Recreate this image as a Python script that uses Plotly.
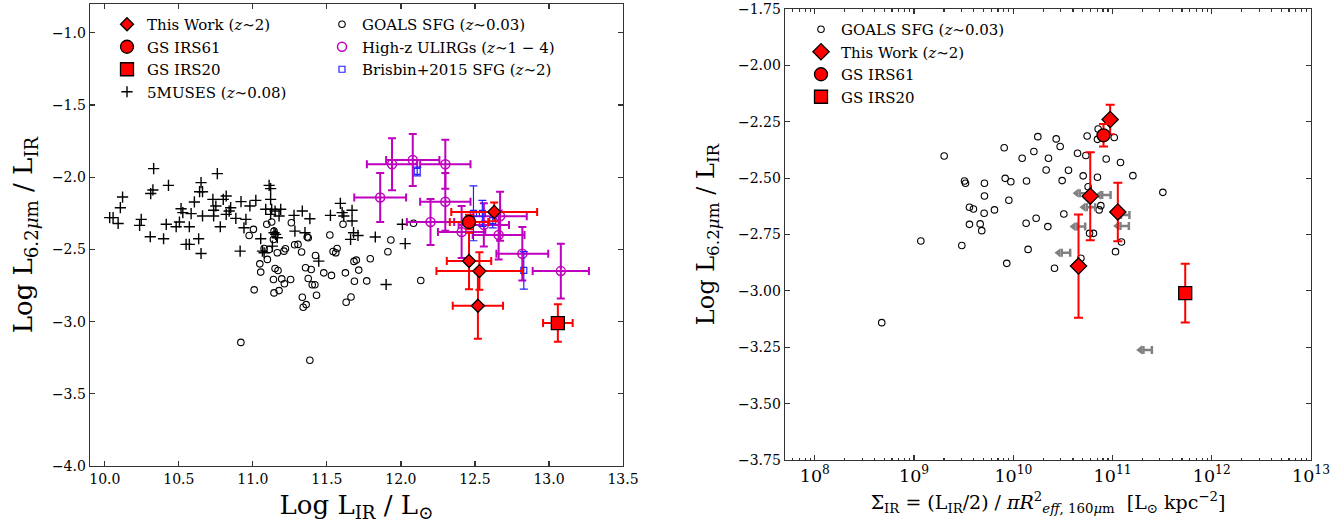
import plotly.graph_objects as go

FONT = "DejaVu Serif"
AX = "#333333"

# ---------------- Left panel data: Log L6.2 / LIR vs Log LIR ----------------
muses_lir = [10.33, 10.76, 10.43, 10.65, 11.11, 11.12, 10.325, 10.31, 10.12, 10.105,
             10.64, 10.66, 10.82, 10.80, 10.73, 10.605, 10.515, 10.527, 10.583, 10.75,
             10.735, 10.735, 10.66, 10.82, 10.85, 10.84, 10.885, 10.92, 10.98, 11.02,
             11.12, 11.087, 11.127, 11.15, 11.188, 11.177, 11.12, 10.953, 10.94, 10.415,
             10.482, 10.504, 10.571, 10.78, 10.246, 10.235, 10.033, 10.056, 10.09, 10.307,
             10.397, 10.634, 10.549, 10.571, 10.65, 10.914, 11.053, 11.143, 11.154, 11.165,
             11.132, 11.065, 11.076, 11.334, 11.278, 11.385, 11.284, 11.352, 11.524, 11.591,
             11.603, 11.614, 11.67, 11.67, 11.68, 11.66, 11.71, 11.827, 12.01, 12.029,
             11.90, 11.445]
muses_ratio = [-1.94, -1.975, -2.056, -2.037, -2.056, -2.079, -2.088, -2.113, -2.137, -2.211,
               -2.10, -2.10, -2.13, -2.153, -2.153, -2.171, -2.218, -2.245, -2.252, -2.199,
               -2.229, -2.268, -2.268, -2.257, -2.211, -2.234, -2.285, -2.169, -2.199, -2.160,
               -2.153, -2.222, -2.222, -2.234, -2.222, -2.268, -2.257, -2.292, -2.35, -2.326,
               -2.343, -2.310, -2.343, -2.343, -2.292, -2.333, -2.280, -2.280, -2.32, -2.412,
               -2.426, -2.426, -2.465, -2.465, -2.528, -2.512, -2.426, -2.384, -2.396, -2.419,
               -2.477, -2.512, -2.523, -2.234, -2.264, -2.287, -2.373, -2.384, -2.264, -2.181,
               -2.245, -2.268, -2.229, -2.303, -2.384, -2.43, -2.403, -2.414, -2.326, -2.46,
               -2.743, -2.581]

goals_lir = [10.919, 11.385, 11.004, 10.975, 11.094, 11.127, 11.143, 11.15, 11.139, 11.076,
             11.11, 11.098, 11.047, 11.053, 11.009, 11.139, 11.195, 11.255, 11.213, 11.143,
             11.177, 11.15, 11.17, 11.165, 11.21, 11.22, 11.26, 11.282, 11.305, 11.329,
             11.367, 11.374, 11.423, 11.356, 11.394, 11.479, 11.374, 11.401, 11.419, 11.43,
             11.334, 11.34, 11.36, 11.52, 11.531, 11.542, 11.56, 11.569, 11.609, 11.625,
             11.683, 11.699, 11.715, 11.686, 11.769, 11.793, 11.663, 11.63, 11.912, 11.932,
             12.085, 12.134]
goals_ratio = [-3.144, -3.268, -2.361, -2.403, -2.326, -2.310, -2.373, -2.396, -2.431, -2.493,
               -2.50, -2.569, -2.60, -2.657, -2.780, -2.708, -2.704, -2.708, -2.738, -2.801,
               -2.785, -2.632, -2.646, -2.523, -2.512, -2.495, -2.315, -2.468, -2.465, -2.518,
               -2.414, -2.419, -2.542, -2.627, -2.639, -2.662, -2.701, -2.745, -2.745, -2.817,
               -2.831, -2.90, -2.882, -2.40, -2.68, -2.514, -2.523, -2.493, -2.326, -2.662,
               -2.583, -2.574, -2.643, -2.72, -2.718, -2.565, -2.829, -2.866, -2.516, -2.435,
               -2.319, -2.715]

ulirg_lir = [11.94, 12.08, 12.30, 11.86, 12.30, 12.20, 12.41, 12.56, 12.66, 12.67, 12.82, 13.08]
ulirg_ratio = [-1.91, -1.88, -1.91, -2.14, -2.17, -2.31, -2.38, -2.33, -2.40, -2.27, -2.53, -2.65]
ulirg_lir_err = [0.17, 0.18, 0.17, 0.175, 0.17, 0.16, 0.16, 0.17, 0.175, 0.18, 0.175, 0.19]
ulirg_ratio_err = [0.18, 0.18, 0.17, 0.17, 0.20, 0.16, 0.18, 0.15, 0.17, 0.17, 0.185, 0.19]

brisbin_lir = [12.11, 12.49, 12.55, 12.62, 12.83]
brisbin_ratio = [-1.96, -2.25, -2.25, -2.30, -2.645]
brisbin_ratio_err = [0.03, 0.19, 0.09, 0.05, 0.13]

work_lir = [12.63, 12.46, 12.53, 12.52]
work_ratio = [-2.24, -2.58, -2.65, -2.89]
work_lir_err = [0.29, 0.15, 0.29, 0.17]
work_ratio_err = [0.065, 0.195, 0.13, 0.229]

irs61_lir, irs61_ratio, irs61_lir_err, irs61_ratio_err = [12.46], [-2.31], [0.13], [0.05]
irs20_lir, irs20_ratio, irs20_lir_err, irs20_ratio_err = [13.06], [-3.01], [0.10], [0.13]

# ---------------- Right panel data: ratio vs Sigma_IR ----------------
goals_log_sigma = [8.674, 9.068, 9.303, 9.481, 9.508, 9.518, 9.709, 9.709, 9.558, 9.598,
                   9.706, 9.810, 9.558, 9.666, 9.682, 9.908, 9.918, 9.975, 9.955, 9.934,
                   10.089, 10.133, 10.129, 10.149, 10.207, 10.230, 10.247, 10.331, 10.354, 10.348,
                   10.432, 10.472, 10.492, 10.509, 10.556, 10.647, 10.704, 10.731, 10.744, 10.754,
                   10.415, 10.681, 10.768, 10.808, 10.848, 10.855, 10.848, 10.865, 10.882, 10.936,
                   11.017, 11.080, 11.090, 11.030, 11.205, 11.507]
goals_ratio_r = [-3.141, -2.779, -2.402, -2.799, -2.513, -2.523, -2.523, -2.579, -2.629, -2.637,
                 -2.656, -2.641, -2.705, -2.703, -2.733, -2.365, -2.501, -2.516, -2.598, -2.878,
                 -2.412, -2.513, -2.700, -2.816, -2.382, -2.678, -2.316, -2.464, -2.412, -2.715,
                 -2.326, -2.360, -2.511, -2.659, -2.465, -2.390, -2.490, -2.400, -2.313, -2.538,
                 -2.900, -2.855, -2.745, -2.745, -2.496, -2.282, -2.328, -2.641, -2.622, -2.415,
                 -2.320, -2.431, -2.783, -2.826, -2.489, -2.563]
goals_sigma = [10 ** v for v in goals_log_sigma]

work_sigma = [9.46e10, 5.96e10, 1.13e11, 4.54e10]
irs61_sigma = [8.11e10]
irs20_sigma = [5.40e11]

limit_sigma = [5.69e10, 9.55e10, 6.68e10, 1.48e11, 5.30e10, 1.46e11, 3.74e10, 2.49e11]
limit_ratio = [-2.567, -2.575, -2.629, -2.664, -2.715, -2.712, -2.831, -3.262]
limit_len_dex = 0.085
limit_head_dex = 0.118

RED = "#FF0000"
MAG = "#BF00BF"
BLUE = "#2222FF"
GRAY = "#808080"

fig = go.Figure()

# ---------- left panel ----------
fig.add_trace(go.Scatter(
    x=muses_lir, y=muses_ratio, mode="markers", name="5MUSES (<i>z</i>∼0.08)",
    marker=dict(symbol="cross-thin-open", size=8, line=dict(color="black", width=1.4), color="black"),
    legend="legend", legendrank=4, xaxis="x", yaxis="y"))
fig.add_trace(go.Scatter(
    x=goals_lir, y=goals_ratio, mode="markers", name="GOALS SFG (<i>z</i>∼0.03)",
    marker=dict(symbol="circle-open", size=6.5, line=dict(color="black", width=1.1), color="black"),
    legend="legend2", legendrank=1, xaxis="x", yaxis="y"))
fig.add_trace(go.Scatter(
    x=ulirg_lir, y=ulirg_ratio, mode="markers", name="High-z ULIRGs (<i>z</i>∼1 − 4)",
    marker=dict(symbol="circle-open", size=9, line=dict(color=MAG, width=1.5), color=MAG),
    error_x=dict(type="data", array=ulirg_lir_err, color=MAG, thickness=2, width=4),
    error_y=dict(type="data", array=ulirg_ratio_err, color=MAG, thickness=2, width=4),
    legend="legend2", legendrank=2, xaxis="x", yaxis="y"))
fig.add_trace(go.Scatter(
    x=brisbin_lir, y=brisbin_ratio, mode="markers", name="Brisbin+2015 SFG (<i>z</i>∼2)",
    marker=dict(symbol="square-open", size=6, line=dict(color=BLUE, width=1.2), color=BLUE),
    error_y=dict(type="data", array=brisbin_ratio_err, color=BLUE, thickness=1.2, width=4),
    legend="legend2", legendrank=3, xaxis="x", yaxis="y"))
fig.add_trace(go.Scatter(
    x=work_lir, y=work_ratio, mode="markers", name="This Work (<i>z</i>∼2)",
    marker=dict(symbol="diamond", size=10, color=RED, line=dict(color="black", width=1.3)),
    error_x=dict(type="data", array=work_lir_err, color=RED, thickness=2, width=4),
    error_y=dict(type="data", array=work_ratio_err, color=RED, thickness=2, width=4),
    legend="legend", legendrank=1, xaxis="x", yaxis="y"))
fig.add_trace(go.Scatter(
    x=irs61_lir, y=irs61_ratio, mode="markers", name="GS IRS61",
    marker=dict(symbol="circle", size=13, color=RED, line=dict(color="black", width=1.3)),
    error_x=dict(type="data", array=irs61_lir_err, color=RED, thickness=2, width=4),
    error_y=dict(type="data", array=irs61_ratio_err, color=RED, thickness=2, width=4),
    legend="legend", legendrank=2, xaxis="x", yaxis="y"))
fig.add_trace(go.Scatter(
    x=irs20_lir, y=irs20_ratio, mode="markers", name="GS IRS20",
    marker=dict(symbol="square", size=13, color=RED, line=dict(color="black", width=1.3)),
    error_x=dict(type="data", array=irs20_lir_err, color=RED, thickness=2, width=4),
    error_y=dict(type="data", array=irs20_ratio_err, color=RED, thickness=2, width=4),
    legend="legend", legendrank=3, xaxis="x", yaxis="y"))

# ---------- right panel ----------
fig.add_trace(go.Scatter(
    x=goals_sigma, y=goals_ratio_r, mode="markers", name="GOALS SFG (<i>z</i>∼0.03)",
    marker=dict(symbol="circle-open", size=6.5, line=dict(color="black", width=1.1), color="black"),
    legend="legend3", legendrank=1, xaxis="x2", yaxis="y2"))
fig.add_trace(go.Scatter(
    x=limit_sigma, y=limit_ratio, mode="markers", showlegend=False, hoverinfo="skip",
    marker=dict(size=1, color="rgba(0,0,0,0)"),
    error_x=dict(type="data", symmetric=False, array=[0] * len(limit_sigma),
                 arrayminus=[s * (1 - 10 ** -limit_len_dex) for s in limit_sigma],
                 color=GRAY, thickness=2.5, width=4),
    xaxis="x2", yaxis="y2"))
fig.add_trace(go.Scatter(
    x=[s * 10 ** -limit_head_dex for s in limit_sigma], y=limit_ratio, mode="markers",
    showlegend=False, hoverinfo="skip",
    marker=dict(symbol="triangle-left", size=8, color=GRAY, line=dict(width=0)),
    xaxis="x2", yaxis="y2"))
fig.add_trace(go.Scatter(
    x=work_sigma, y=work_ratio, mode="markers", name="This Work (<i>z</i>∼2)",
    marker=dict(symbol="diamond", size=12.5, color=RED, line=dict(color="black", width=1.3)),
    error_y=dict(type="data", array=work_ratio_err, color=RED, thickness=2, width=4.5),
    legend="legend3", legendrank=2, xaxis="x2", yaxis="y2"))
fig.add_trace(go.Scatter(
    x=irs61_sigma, y=irs61_ratio, mode="markers", name="GS IRS61",
    marker=dict(symbol="circle", size=13, color=RED, line=dict(color="black", width=1.3)),
    error_y=dict(type="data", array=irs61_ratio_err, color=RED, thickness=2, width=4.5),
    legend="legend3", legendrank=3, xaxis="x2", yaxis="y2"))
fig.add_trace(go.Scatter(
    x=irs20_sigma, y=irs20_ratio, mode="markers", name="GS IRS20",
    marker=dict(symbol="square", size=13, color=RED, line=dict(color="black", width=1.3)),
    error_y=dict(type="data", array=irs20_ratio_err, color=RED, thickness=2, width=4.5),
    legend="legend3", legendrank=4, xaxis="x2", yaxis="y2"))

W, H = 1344, 523
tickfont = dict(family=FONT, size=14, color="black")
axis_common = dict(showline=True, linecolor=AX, linewidth=1.3, mirror="ticks",
                   ticks="inside", ticklen=5, tickwidth=1.2, tickcolor=AX,
                   showgrid=False, zeroline=False, tickfont=tickfont)

legend_common = dict(bgcolor="rgba(0,0,0,0)", borderwidth=0, xanchor="left", yanchor="top",
                     font=dict(family=FONT, size=15, color="black"),
                     tracegroupgap=0, itemsizing="trace")

fig.update_layout(
    width=W, height=H, margin=dict(l=0, r=0, t=0, b=0, autoexpand=False),
    paper_bgcolor="white", plot_bgcolor="white",
    font=dict(family=FONT, color="black"),
    hovermode=False,
    xaxis=dict(domain=[90 / W, 623 / W], range=[9.9, 13.5], dtick=0.5, tick0=10,
               tickformat=".1f", anchor="y",
               title=dict(text="Log L<sub>IR</sub> / L<sub>⊙</sub>",
                          font=dict(family=FONT, size=26), standoff=11),
               **axis_common),
    yaxis=dict(domain=[1 - 466 / H, 1 - 4 / H], range=[-4.0, -0.8], dtick=0.5, tick0=-4,
               tickformat=".1f", anchor="x",
               title=dict(text="Log L<sub>6.2<i>μ</i>m</sub> / L<sub>IR</sub>",
                          font=dict(family=FONT, size=26), standoff=11),
               **axis_common),
    xaxis2=dict(domain=[785 / W, 1311 / W], type="log", range=[7.699, 13], dtick=1,
                exponentformat="power", anchor="y2",
                minor=dict(ticks="inside", ticklen=2.5, tickcolor=AX, dtick="D1"),
                title=dict(text="Σ<sub>IR</sub> = (L<sub>IR</sub>/2) / <i>πR</i><sup>2</sup><sub><i>eff</i>, 160<i>μ</i>m</sub>  [L<sub>⊙</sub> kpc<sup>−2</sup>]",
                           font=dict(family=FONT, size=19), standoff=11),
                **axis_common),
    yaxis2=dict(domain=[1 - 460 / H, 1 - 9 / H], range=[-3.75, -1.75], dtick=0.25, tick0=-3.75,
                tickformat=".2f", anchor="x2",
                title=dict(text="Log L<sub>6.2<i>μ</i>m</sub> / L<sub>IR</sub>",
                           font=dict(family=FONT, size=24), standoff=16),
                **axis_common),
    legend=dict(x=107 / W, y=1 - 8 / H, **legend_common),
    legend2=dict(x=322 / W, y=1 - 8 / H, **legend_common),
    legend3=dict(x=801 / W, y=1 - 13 / H, **legend_common),
    showlegend=True,
)

fig.write_html(
    "out.html",
    config={"displayModeBar": False, "staticPlot": True},
    post_script=("document.body.style.margin='0px';document.body.style.padding='0px';"
                 "document.body.style.overflow='hidden';"
                 "document.documentElement.style.overflow='hidden';"),
)
